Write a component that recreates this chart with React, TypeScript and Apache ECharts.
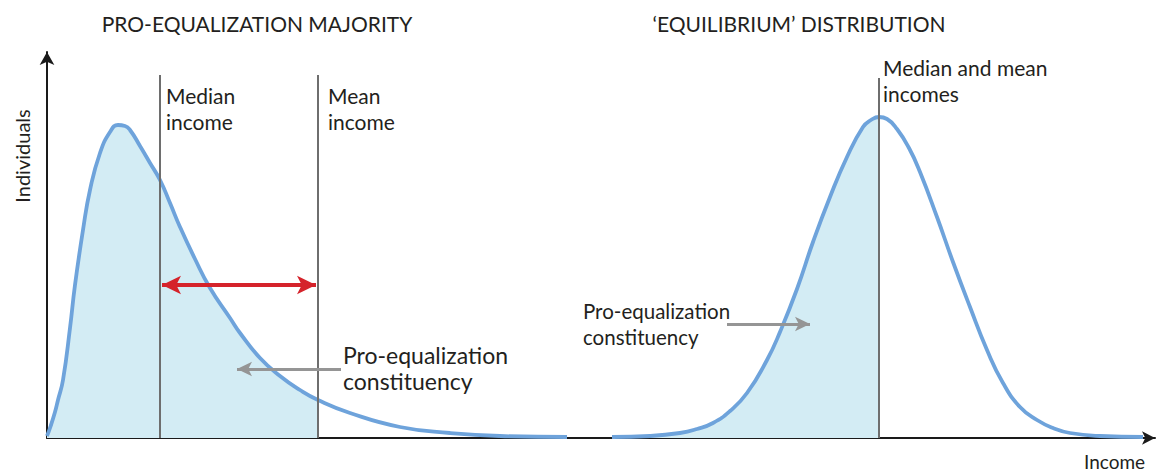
import React, { useEffect, useRef } from "react";
import * as echarts from "echarts";

// Income (x) and individuals (y), in axis units
const leftIncome = [0, 3, 8, 11, 16, 23, 28, 36, 43, 53, 63, 71, 78, 83, 93, 103, 113, 123, 133, 148, 163, 183, 193, 213, 233, 253, 271, 303, 353, 403, 453, 520];
const leftIndividuals = [2, 10, 26, 38, 58, 110, 153, 208, 248, 285, 306, 313, 312, 308, 292, 275, 258, 235, 211, 179, 150, 120, 105, 80, 62, 48, 38, 25, 11, 5, 2, 1];
const rightIncome = [565, 603, 633, 650, 666, 683, 700, 720, 733, 750, 766, 783, 800, 816, 824, 832, 840, 850, 862, 873, 890, 906, 923, 940, 956, 973, 990, 1006, 1023, 1053, 1096];
const rightIndividuals = [1, 2, 5, 9, 15, 27, 45, 78, 106, 149, 196, 241, 281, 311, 318, 321, 319, 309, 290, 266, 221, 176, 131, 88, 55, 31, 18, 10, 5, 2, 1];

const leftMedian = 113;
const leftMean = 271;
const rightMedianMean = 832;
const markerTop = 363;
const rightMarkerTop = 360;
const gapArrowY = 153;
const leftArrowY = 69;
const rightArrowY = 114;

const titles = ["PRO-EQUALIZATION MAJORITY", "\u2018EQUILIBRIUM\u2019 DISTRIBUTION"];

const FONT = "Lato";
const TEXT = "#231f20";
const BLUE = "#6ea3db";
const FILL = "#d3ecf4";
const GREY = "#6e6e6e";

function pairs(xs: number[], ys: number[]) {
  return xs.map((x, i) => [x, ys[i]]);
}

export default function App() {
  const ref = useRef<HTMLDivElement>(null);
  useEffect(() => {
    if (!ref.current) return;
    const chart = echarts.init(ref.current, null, { renderer: "svg" });
    const left = pairs(leftIncome, leftIndividuals);
    const right = pairs(rightIncome, rightIndividuals);
    const leftFill = left.filter((p) => p[0] <= leftMean);
    const rightFill = right.filter((p) => p[0] <= rightMedianMean);
    const txt = (text: string, x: number, y: number, size: number, extra: any = {}) => ({
      type: "text",
      x,
      y,
      style: {
        text,
        fill: TEXT,
        font: `${size}px ${FONT}`,
        textVerticalAlign: "middle",
        ...extra,
      },
      silent: true,
    });
    chart.setOption({
      animation: false,
      grid: { left: 47, right: 6, top: 52, bottom: 35 },
      xAxis: {
        type: "value",
        min: 0,
        max: 1108,
        axisLine: {
          show: true,
          onZero: false,
          lineStyle: { color: "#1a1a1a", width: 2 },
          symbol: ["none", "arrow"],
          symbolSize: [10, 13],
        },
        axisTick: { show: false },
        axisLabel: { show: false },
        splitLine: { show: false },
      },
      yAxis: {
        type: "value",
        min: 0,
        max: 386,
        axisLine: {
          show: true,
          onZero: false,
          lineStyle: { color: "#1a1a1a", width: 2 },
          symbol: ["none", "arrow"],
          symbolSize: [11, 13],
        },
        axisTick: { show: false },
        axisLabel: { show: false },
        splitLine: { show: false },
      },
      series: [
        {
          type: "line",
          data: leftFill,
          smooth: 0.5,
          showSymbol: false,
          lineStyle: { width: 0 },
          areaStyle: { color: FILL, opacity: 1 },
          silent: true,
          z: 1,
        },
        {
          type: "line",
          data: rightFill,
          smooth: 0.5,
          showSymbol: false,
          lineStyle: { width: 0 },
          areaStyle: { color: FILL, opacity: 1 },
          silent: true,
          z: 1,
        },
        {
          type: "line",
          data: left,
          smooth: 0.5,
          showSymbol: false,
          lineStyle: { color: BLUE, width: 3.8 },
          silent: true,
          z: 3,
        },
        {
          type: "line",
          data: right,
          smooth: 0.5,
          showSymbol: false,
          lineStyle: { color: BLUE, width: 3.8 },
          silent: true,
          z: 3,
        },
        {
          type: "line",
          data: [],
          silent: true,
          z: 4,
          markLine: {
            silent: true,
            animation: false,
            label: { show: false },
            data: [
              [
                { coord: [leftMedian, 0], symbol: "none", lineStyle: { color: GREY, width: 2, type: "solid" } },
                { coord: [leftMedian, markerTop], symbol: "none" },
              ],
              [
                { coord: [leftMean, 0], symbol: "none", lineStyle: { color: GREY, width: 2, type: "solid" } },
                { coord: [leftMean, markerTop], symbol: "none" },
              ],
              [
                { coord: [rightMedianMean, 0], symbol: "none", lineStyle: { color: GREY, width: 2, type: "solid" } },
                { coord: [rightMedianMean, rightMarkerTop], symbol: "none" },
              ],
              [
                { coord: [leftMedian + 2, gapArrowY], symbol: "arrow", symbolSize: [14, 19], lineStyle: { color: "#d5232b", width: 4, type: "solid" } },
                { coord: [leftMean - 2, gapArrowY], symbol: "arrow", symbolSize: [14, 19] },
              ],
              [
                { coord: [294, leftArrowY], symbol: "none", lineStyle: { color: "#959595", width: 3, type: "solid" } },
                { coord: [190, leftArrowY], symbol: "arrow", symbolSize: [11, 15] },
              ],
              [
                { coord: [680, rightArrowY], symbol: "none", lineStyle: { color: "#959595", width: 3, type: "solid" } },
                { coord: [763, rightArrowY], symbol: "arrow", symbolSize: [11, 15] },
              ],
            ],
          },
        },
      ],
      graphic: [
        txt(titles[0], 257, 23, 21, { textAlign: "center" }),
        txt(titles[1], 799, 23, 21, { textAlign: "center" }),
        txt("Median", 166, 95, 21),
        txt("income", 166, 121, 21),
        txt("Mean", 328, 95, 21),
        txt("income", 328, 121, 21),
        txt("Median and mean", 883, 67, 21),
        txt("incomes", 883, 93, 21),
        txt("Pro-equalization", 343, 355, 23),
        txt("constituency", 343, 381, 23),
        txt("Pro-equalization", 583, 311, 20.5),
        txt("constituency", 583, 337, 20.5),
        {
          type: "text",
          x: 22,
          y: 156,
          rotation: Math.PI / 2,
          style: {
            text: "Individuals",
            fill: TEXT,
            font: `20px ${FONT}`,
            textAlign: "center",
            textVerticalAlign: "middle",
          },
          silent: true,
        },
        txt("Income", 1084, 461, 19),
      ],
    });
    return () => chart.dispose();
  }, []);
  return <div ref={ref} style={{ width: 1161, height: 473, position: "absolute", left: 0, top: 0 }} />;
}
